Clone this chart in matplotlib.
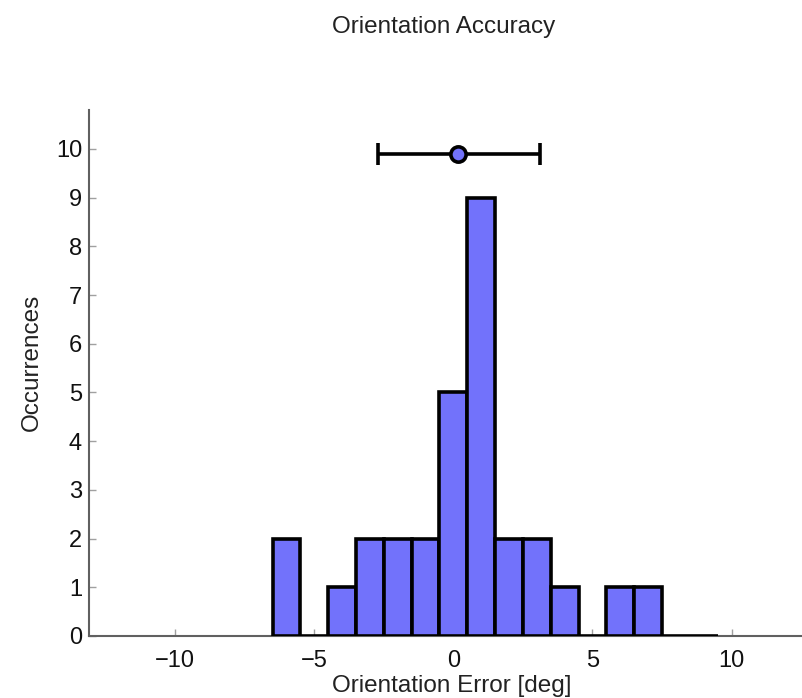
import numpy as np
import matplotlib
matplotlib.use('Agg')
import matplotlib.pyplot as plt

# histogram data (bin centres in deg, counts)
bin_centers = [-6, -5, -4, -3, -2, -1, 0, 1, 2, 3, 4, 5, 6, 7, 8, 9]
counts = [2, 0, 1, 2, 2, 2, 5, 9, 2, 2, 1, 0, 1, 1, 0, 0]

# mean +/- std shown above the histogram
err_mean = 0.18
err_lo = -2.7
err_hi = 3.1
err_y = 9.9

x_ticks = [-10, -5, 0, 5, 10]
y_ticks = list(range(0, 11))

plt.rcParams['font.family'] = ['Liberation Sans', 'DejaVu Sans']

bar_color = '#7272fb'
axis_color = '#606060'

fig = plt.figure(figsize=(8.03, 6.98), dpi=100)
ax = fig.add_axes([89 / 803, 1 - 636 / 698, 726 / 803, 526 / 698])

ax.bar(bin_centers, counts, width=1.0, color=bar_color, edgecolor='black',
       linewidth=2.6, zorder=3)

ax.errorbar([err_mean], [err_y],
            xerr=[[err_mean - err_lo], [err_hi - err_mean]],
            fmt='o', color='black', ecolor='black', elinewidth=2.6,
            capsize=8, capthick=2.6, markersize=11,
            markerfacecolor=bar_color, markeredgecolor='black',
            markeredgewidth=2.6, zorder=4)

ax.set_xlim(-13.1, 13)
ax.set_ylim(0, 10.8)
ax.set_xticks(x_ticks)
ax.set_xticklabels(['\u221210', '\u22125', '0', '5', '10'])
ax.set_yticks(y_ticks)

for side in ['top', 'right']:
    ax.spines[side].set_visible(False)
for side in ['left', 'bottom']:
    ax.spines[side].set_color(axis_color)
    ax.spines[side].set_linewidth(1.5)

ax.tick_params(direction='in', length=5, width=1, color='#a0a0a0',
               labelsize=17, labelcolor='#111111')
ax.tick_params(axis='y', pad=5)
ax.tick_params(axis='x', pad=10)

ax.set_xlabel('Orientation Error [deg]', fontsize=17.5, labelpad=2,
              color='#222222')
ax.set_ylabel('Occurrences', fontsize=17.5, labelpad=9, color='#222222',
              y=0.52)

fig.text(444 / 803, 1 - 27 / 698, 'Orientation Accuracy', ha='center',
         va='center', fontsize=17.5, color='#222222')

fig.savefig('out.png', dpi=100)
